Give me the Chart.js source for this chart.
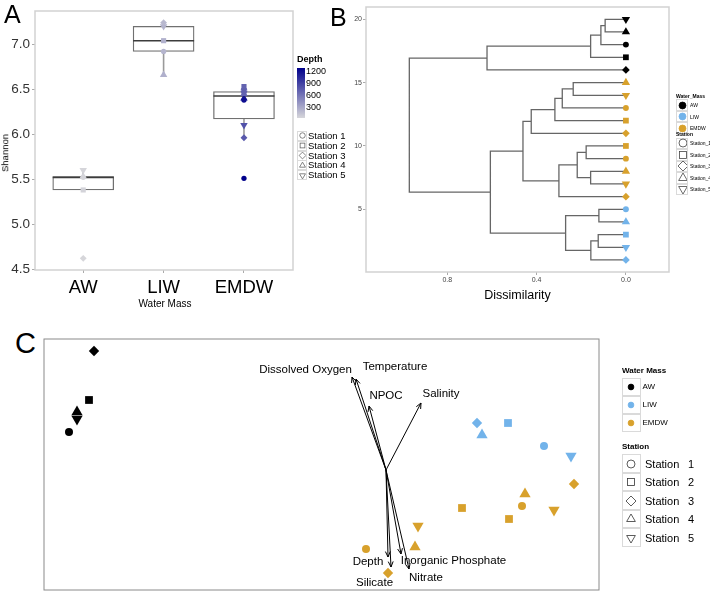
<!DOCTYPE html>
<html>
<head>
<meta charset="utf-8">
<script src="https://cdn.jsdelivr.net/npm/chart.js@4.4.1/dist/chart.umd.min.js"></script>
<style>
  body { margin: 0; background: #fff; font-family: "Liberation Sans", Arial, sans-serif; }
  #page { position: relative; width: 710px; height: 593px; overflow: hidden; background: #fff; }
  canvas { position: absolute; }
  .txt { position: absolute; white-space: nowrap; line-height: 1; color: #000; transform: translateY(-50%); }
  .bold { font-weight: bold; }
  .letter { font-size: 25px; }
  .rot { transform: translate(-50%, -50%) rotate(-90deg); }
  .key { position: absolute; box-sizing: border-box; border: 1px solid #dadada; background: #fff; display: flex; align-items: center; justify-content: center; }
</style>
</head>
<body>
<div id="page">
  <canvas id="chartA" width="300" height="312" style="left:0;top:0"></canvas>
  <canvas id="chartB" width="358" height="305" style="left:352px;top:0"></canvas>
  <canvas id="chartC" width="670" height="263" style="left:40px;top:330px"></canvas>
  <div class="txt letter" style="left:4px;top:14px">A</div>
  <div class="txt letter" style="left:330px;top:17px">B</div>
  <div class="txt letter" style="left:15px;top:343px;font-size:29px">C</div>
  <div class="txt rot" style="left:5px;top:153px;font-size:9.5px">Shannon</div>
  <div class="txt" style="left:165px;top:304px;font-size:10px;transform:translate(-50%,-50%)">Water Mass</div>
</div>
<script>
// shared categories
const massNames = ['AW', 'LIW', 'EMDW'];
const massColors = ['#000000', '#72b3ea', '#d8a12c'];
const stationNames = ['Station 1', 'Station 2', 'Station 3', 'Station 4', 'Station 5'];
const stationKeys = ['Station_1', 'Station_2', 'Station_3', 'Station_4', 'Station_5'];

// Panel A - Shannon index per station (EMDW sampled twice at each station)
const shannonAW = [5.52, 5.38, 4.62, 5.53, 5.60];
const shannonLIW = [6.92, 7.04, 7.24, 6.66, 7.20];
const shannonEMDW = [6.38, 6.53, 6.50, 6.40, 6.10, 5.51, 6.48, 5.96, 6.45, 6.46];
const depthAW = [30, 40, 25, 35, 30];
const depthLIW = [220, 240, 200, 250, 230];
const depthEMDW = [1200, 700, 640, 1150, 800, 1285, 720, 760, 700, 690];
const depthRange = [25, 1285];
const depthTicks = [300, 600, 900, 1200];
const shannonTicks = [4.5, 5.0, 5.5, 6.0, 6.5, 7.0];

// Panel B - dendrogram, leaves numbered 1 (bottom) to 20 (top)
const leafMass = [1, 1, 1, 1, 1, 2, 2, 2, 2, 2, 2, 2, 2, 2, 2, 0, 0, 0, 0, 0];
const leafStation = [2, 4, 1, 3, 0, 2, 4, 3, 0, 1, 2, 1, 0, 4, 3, 2, 1, 0, 3, 4];
// hclust style merges: negative = leaf, positive = earlier merge (1-based)
const mergeA = [-20, 1, 2, 3, -15, 5, 6, 7, -10, -8, 9, 11, 8, -5, -3, 15, 14, 13, 4];
const mergeB = [-19, -18, -17, -16, -14, -13, -12, -11, -9, -7, 10, -6, 12, -4, -2, -1, 16, 17, 18];
const mergeHeight = [0.093, 0.112, 0.158, 0.622, 0.236, 0.285, 0.318, 0.424, 0.178, 0.158, 0.218, 0.300, 0.461, 0.121, 0.124, 0.157, 0.270, 0.607, 0.970];
const dissimTicks = [0, 0.4, 0.8];
const leafTicks = [5, 10, 15, 20];

// Panel C - ordination scores and environmental vectors
const rdaMass = [0, 0, 0, 0, 0, 1, 1, 1, 1, 1, 2, 2, 2, 2, 2, 2, 2, 2, 2, 2];
const rdaStation = [0, 1, 2, 3, 4, 0, 1, 2, 3, 4, 0, 1, 2, 3, 4, 0, 1, 2, 3, 4];
const rdaX = [-3.17, -2.97, -2.92, -3.09, -3.09, 1.58, 1.22, 0.91, 0.96, 1.85, 1.36, 1.23, 1.88, 1.39, 1.68, -0.20, 0.76, 0.02, 0.29, 0.32];
const rdaY = [0.38, 0.70, 1.19, 0.58, 0.51, 0.24, 0.47, 0.47, 0.35, 0.14, -0.36, -0.49, -0.14, -0.24, -0.40, -0.79, -0.38, -1.03, -0.77, -0.56];
const envNames = ['Dissolved Oxygen', 'Temperature', 'NPOC', 'Salinity', 'Depth', 'Silicate', 'Inorganic Phosphate', 'Nitrate'];
const envX = [-0.34, -0.30, -0.17, 0.35, 0.02, 0.05, 0.15, 0.23];
const envY = [0.93, 0.91, 0.64, 0.67, -0.87, -0.97, -0.84, -0.99];
const envLabelX = [-0.805, 0.09, 0.0, 0.55, -0.18, -0.115, 0.675, 0.40];
const envLabelY = [1.00, 1.03, 0.74, 0.76, -0.92, -1.13, -0.91, -1.08];

// point shapes per station
const stationStyle = ['circle', 'rect', 'rectRot', 'triangle', 'triangle'];
const stationRotation = [0, 0, 0, 0, 180];
const shapeRadius = [4, 5.5, 5.2, 6.5, 6.5];

function depthColor(d) {
  const t = Math.max(0, Math.min(1, (d - depthRange[0]) / (depthRange[1] - depthRange[0])));
  const lo = [214, 214, 218], hi = [0, 0, 139];
  const c = lo.map((v, i) => Math.round(v + (hi[i] - v) * t));
  return 'rgb(' + c.join(',') + ')';
}

function quantile(sorted, p) {
  const h = (sorted.length - 1) * p;
  const i = Math.floor(h);
  const next = i + 1 < sorted.length ? sorted[i + 1] : sorted[i];
  return sorted[i] + (h - i) * (next - sorted[i]);
}

function boxStats(values) {
  const s = [...values].sort((a, b) => a - b);
  const q1 = quantile(s, 0.25), med = quantile(s, 0.5), q3 = quantile(s, 0.75);
  const iqr = q3 - q1;
  const inside = s.filter(v => v >= q1 - 1.5 * iqr && v <= q3 + 1.5 * iqr);
  return { q1, med, q3, lo: inside[0], hi: inside[inside.length - 1] };
}

// draws the panel border over the plot area
const framePlugin = {
  id: 'frame',
  afterDatasetsDraw(chart, args, opts) {
    const { ctx, chartArea: a } = chart;
    ctx.save();
    ctx.strokeStyle = opts.color;
    ctx.lineWidth = opts.width;
    ctx.strokeRect(a.left, a.top, a.right - a.left, a.bottom - a.top);
    ctx.restore();
  }
};

const baseOptions = {
  responsive: false,
  animation: false,
  events: [],
  plugins: { legend: { display: false }, tooltip: { enabled: false } }
};

/* ---------- Panel A: boxplots ---------- */
const groups = [shannonAW, shannonLIW, shannonEMDW];
const depths = [depthAW, depthLIW, depthEMDW];
const stats = groups.map(boxStats);

const whiskerData = [];
stats.forEach((s, i) => {
  whiskerData.push({ x: i + 1, y: s.lo }, { x: i + 1, y: s.q1 }, { x: i + 1, y: null },
                   { x: i + 1, y: s.q3 }, { x: i + 1, y: s.hi }, { x: i + 1, y: null });
});

const stationSetsA = stationNames.map((name, k) => {
  const pts = [], cols = [];
  groups.forEach((vals, g) => {
    vals.forEach((v, j) => {
      if (j % 5 === k) {
        pts.push({ x: g + 1, y: v });
        cols.push(depthColor(depths[g][j]));
      }
    });
  });
  return {
    type: 'scatter', label: name, data: pts, order: 0,
    pointStyle: stationStyle[k], pointRotation: stationRotation[k],
    pointRadius: shapeRadius[k] * 0.66, pointBackgroundColor: cols,
    pointBorderColor: cols, pointBorderWidth: 0
  };
});

new Chart(document.getElementById('chartA'), {
  type: 'scatter',
  data: {
    datasets: [
      ...stationSetsA,
      { type: 'scatter', data: stats.map((s, i) => ({ x: i + 1, y: s.med })), order: 1,
        pointStyle: 'line', pointRadius: 30.5, pointBorderColor: '#3c3c3c', pointBorderWidth: 1.6 },
      { type: 'bar', data: stats.map((s, i) => ({ x: i + 1, y: [s.q1, s.q3] })), order: 2,
        backgroundColor: '#ffffff', borderColor: '#707070', borderWidth: 1.3,
        borderSkipped: false, barThickness: 61 },
      { type: 'line', data: whiskerData, order: 3, showLine: true, spanGaps: false,
        borderColor: '#9a9a9a', borderWidth: 1.6, pointRadius: 0 }
    ]
  },
  options: {
    ...baseOptions,
    layout: { autoPadding: false, padding: { left: 0, right: 7, top: 11, bottom: 0 } },
    scales: {
      x: {
        type: 'linear', min: 0.40, max: 3.61, offset: false,
        afterBuildTicks: s => { s.ticks = massNames.map((_, i) => ({ value: i + 1 })); },
        afterFit: s => { s.height = 42; s.paddingLeft = 0; s.paddingRight = 0; },
        ticks: { callback: v => massNames[v - 1] || '', font: { size: 18.5 }, color: '#000', padding: 4, maxRotation: 0, autoSkip: false },
        grid: { drawOnChartArea: false, offset: false, tickLength: 3, color: '#aaaaaa' },
        border: { display: false }
      },
      y: {
        type: 'linear', min: 4.49, max: 7.37,
        afterBuildTicks: s => { s.ticks = shannonTicks.map(v => ({ value: v })); },
        afterFit: s => { s.width = 35; },
        ticks: { callback: v => v.toFixed(1), font: { size: 13.5 }, color: '#333', padding: 2 },
        grid: { drawOnChartArea: false, tickLength: 3, color: '#aaaaaa' },
        border: { display: false }
      }
    },
    plugins: { ...baseOptions.plugins, frame: { color: '#d2d2d2', width: 1.5 } }
  },
  plugins: [framePlugin]
});

/* ---------- Panel B: dendrogram ---------- */
const nodeY = [];
function childPos(c) {
  return c < 0 ? { y: -c, h: 0 } : { y: nodeY[c - 1], h: mergeHeight[c - 1] };
}
const dendroData = [];
mergeA.forEach((a, i) => {
  const A = childPos(a), B = childPos(mergeB[i]), h = mergeHeight[i];
  nodeY[i] = (A.y + B.y) / 2;
  dendroData.push({ x: A.h, y: A.y }, { x: h, y: A.y }, { x: h, y: B.y }, { x: B.h, y: B.y }, { x: h, y: null });
});

new Chart(document.getElementById('chartB'), {
  type: 'scatter',
  data: {
    datasets: [
      { type: 'scatter', data: leafMass.map((m, i) => ({ x: 0, y: i + 1 })), order: 0,
        pointStyle: leafStation.map(s => stationStyle[s]),
        pointRotation: leafStation.map(s => stationRotation[s]),
        pointRadius: leafStation.map(s => shapeRadius[s] * 0.74),
        pointBackgroundColor: leafMass.map(m => massColors[m]),
        pointBorderColor: leafMass.map(m => massColors[m]), pointBorderWidth: 0 },
      { type: 'line', data: dendroData, order: 1, showLine: true, spanGaps: false,
        borderColor: '#666666', borderWidth: 1.3, pointRadius: 0 }
    ]
  },
  options: {
    ...baseOptions,
    layout: { autoPadding: false, padding: { left: 0, right: 41, top: 7, bottom: 0 } },
    scales: {
      x: {
        type: 'linear', reverse: true, min: -0.193, max: 1.164,
        afterBuildTicks: s => { s.ticks = dissimTicks.map(v => ({ value: v })); },
        afterFit: s => { s.height = 33; },
        ticks: { callback: v => v.toFixed(1), font: { size: 7 }, color: '#444', padding: 1 },
        grid: { drawOnChartArea: false, tickLength: 3, color: '#aaaaaa' },
        border: { display: false },
        title: { display: true, text: 'Dissimilarity', font: { size: 12.5 }, color: '#000', padding: { top: 0, bottom: 1.5 } }
      },
      y: {
        type: 'linear', min: 0.05, max: 20.97,
        afterBuildTicks: s => { s.ticks = leafTicks.map(v => ({ value: v })); },
        afterFit: s => { s.width = 14; },
        ticks: { font: { size: 7 }, color: '#444', padding: 1 },
        grid: { drawOnChartArea: false, tickLength: 3, color: '#aaaaaa' },
        border: { display: false }
      }
    },
    plugins: { ...baseOptions.plugins, frame: { color: '#d2d2d2', width: 1.5 } }
  },
  plugins: [framePlugin]
});

/* ---------- Panel C: ordination biplot ---------- */
const arrowData = [];
envX.forEach((ex, i) => {
  arrowData.push({ x: 0, y: 0 }, { x: ex, y: envY[i] }, { x: ex, y: null });
});

const arrowPlugin = {
  id: 'arrowheads',
  afterDatasetsDraw(chart) {
    const { ctx, scales: { x, y } } = chart;
    const x0 = x.getPixelForValue(0), y0 = y.getPixelForValue(0);
    ctx.save();
    ctx.strokeStyle = '#000';
    ctx.lineWidth = 1;
    envX.forEach((ex, i) => {
      const x1 = x.getPixelForValue(ex), y1 = y.getPixelForValue(envY[i]);
      const ang = Math.atan2(y1 - y0, x1 - x0);
      ctx.beginPath();
      [-1, 1].forEach(sd => {
        ctx.moveTo(x1, y1);
        ctx.lineTo(x1 - 6 * Math.cos(ang + sd * 0.42), y1 - 6 * Math.sin(ang + sd * 0.42));
      });
      ctx.stroke();
    });
    ctx.fillStyle = '#000';
    ctx.font = '11.5px "Liberation Sans", Arial, sans-serif';
    ctx.textAlign = 'center';
    ctx.textBaseline = 'middle';
    envNames.forEach((n, i) => {
      ctx.fillText(n, x.getPixelForValue(envLabelX[i]), y.getPixelForValue(envLabelY[i]));
    });
    ctx.restore();
  }
};

new Chart(document.getElementById('chartC'), {
  type: 'scatter',
  data: {
    datasets: [
      { type: 'scatter', data: rdaX.map((v, i) => ({ x: v, y: rdaY[i] })), order: 0,
        pointStyle: rdaStation.map(s => stationStyle[s]),
        pointRotation: rdaStation.map(s => stationRotation[s]),
        pointRadius: rdaStation.map(s => shapeRadius[s]),
        pointBackgroundColor: rdaMass.map(m => massColors[m]),
        pointBorderColor: rdaMass.map(m => massColors[m]), pointBorderWidth: 0 },
      { type: 'line', data: arrowData, order: 1, showLine: true, spanGaps: false,
        borderColor: '#000', borderWidth: 1, pointRadius: 0 }
    ]
  },
  options: {
    ...baseOptions,
    layout: { autoPadding: false, padding: { left: 4, right: 111, top: 9, bottom: 3 } },
    scales: {
      x: { type: 'linear', display: false, min: -3.42, max: 2.13 },
      y: { type: 'linear', display: false, min: -1.20, max: 1.31 }
    },
    plugins: { ...baseOptions.plugins, frame: { color: '#8a8a8a', width: 1 } }
  },
  plugins: [framePlugin, arrowPlugin]
});

/* ---------- legends (HTML) ---------- */
const page = document.getElementById('page');

function addText(str, left, top, size, extra) {
  const d = document.createElement('div');
  d.className = 'txt' + (extra ? ' ' + extra : '');
  d.style.left = left + 'px';
  d.style.top = top + 'px';
  d.style.fontSize = size + 'px';
  d.textContent = str;
  page.appendChild(d);
  return d;
}

function glyph(k, r, fill, stroke) {
  const size = Math.ceil(r * 2 + 2), c = size / 2;
  let shape;
  if (k === 0) shape = `<circle cx="${c}" cy="${c}" r="${r * 0.8}"/>`;
  else if (k === 1) shape = `<rect x="${c - r * 0.7}" y="${c - r * 0.7}" width="${r * 1.4}" height="${r * 1.4}"/>`;
  else if (k === 2) shape = `<polygon points="${c},${c - r} ${c + r},${c} ${c},${c + r} ${c - r},${c}"/>`;
  else {
    const s = k === 3 ? 1 : -1;
    shape = `<polygon points="${c},${c - s * r} ${c + r * 0.87},${c + s * r / 2} ${c - r * 0.87},${c + s * r / 2}"/>`;
  }
  return `<svg width="${size}" height="${size}" style="display:block"><g fill="${fill}" stroke="${stroke}" stroke-width="0.8">${shape}</g></svg>`;
}

function addKey(left, centerY, w, h, svg) {
  const d = document.createElement('div');
  d.className = 'key';
  d.style.left = left + 'px';
  d.style.top = (centerY - h / 2) + 'px';
  d.style.width = w + 'px';
  d.style.height = h + 'px';
  d.innerHTML = svg;
  page.appendChild(d);
}

// Panel A: depth colour bar + station shapes
addText('Depth', 297, 58.5, 9, 'bold');
const bar = document.createElement('div');
bar.style.cssText = `position:absolute;left:297px;top:68px;width:8px;height:50px;background:linear-gradient(to top, ${depthColor(depthRange[0])}, ${depthColor(depthRange[1])})`;
page.appendChild(bar);
depthTicks.forEach(t => {
  const yc = 118 - (t - depthRange[0]) / (depthRange[1] - depthRange[0]) * 50;
  addText(String(t), 306, yc, 9);
});
stationNames.forEach((n, k) => {
  const yc = 135.7 + 9.9 * k;
  addKey(297, yc, 10, 10, glyph(k, 3.4, 'none', '#666'));
  addText(n, 308, yc, 9.5);
});

// Panel B legend
addText('Water_Mass', 676, 96, 5, 'bold');
massNames.forEach((n, m) => {
  const yc = 105.2 + 11.4 * m;
  addKey(676, yc, 12, 11.5, glyph(0, 4.3, massColors[m], massColors[m]));
  addText(n, 690, yc, 5);
});
addText('Station', 676, 134, 5, 'bold');
stationKeys.forEach((n, k) => {
  const yc = 143.3 + 11.5 * k;
  addKey(676, yc, 12, 11.5, glyph(k, 5, 'none', '#444'));
  addText(n, 690, yc, 5);
});

// Panel C legend
addText('Water Mass', 622, 370.5, 8, 'bold');
massNames.forEach((n, m) => {
  const yc = 386.7 + 18 * m;
  addKey(622, yc, 18.5, 18, glyph(0, 3.6, massColors[m], massColors[m]));
  addText(n, 642.5, yc, 8);
});
addText('Station', 622, 447, 8, 'bold');
stationNames.forEach((n, k) => {
  const yc = 463.7 + 18.5 * k;
  addKey(622, yc, 18.5, 18.5, glyph(k, 5, 'none', '#333'));
  addText(n.split(' ')[0], 645, yc, 11);
  addText(n.split(' ')[1], 688, yc, 11);
});
</script>
</body>
</html>
